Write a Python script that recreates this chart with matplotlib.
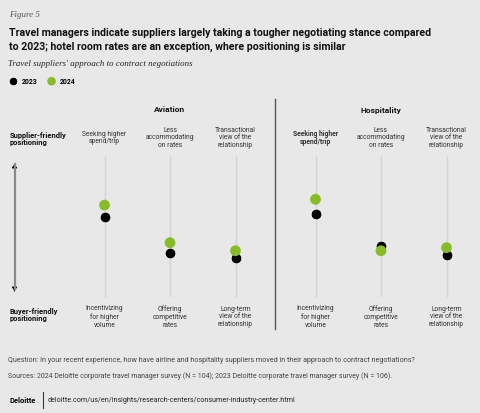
import matplotlib
matplotlib.use('Agg')
import matplotlib.pyplot as plt
from matplotlib.lines import Line2D
from matplotlib import font_manager as fm

# ---------------- data ----------------
sectors = ['Aviation', 'Hospitality']
years = ['2023', '2024']
top_labels = ['Seeking higher\nspend/trip', 'Less\naccommodating\non rates',
              'Transactional\nview of the\nrelationship']
bottom_labels = ['Incentivizing\nfor higher\nvolume', 'Offering\ncompetitive\nrates',
                 'Long-term\nview of the\nrelationship']
# position on a 0 (buyer-friendly) .. 100 (supplier-friendly) scale
aviation_2023 = [56.5, 31.0, 27.4]
aviation_2024 = [65.2, 38.5, 32.8]
hospitality_2023 = [58.7, 36.0, 30.0]
hospitality_2024 = [69.3, 32.8, 35.0]

title_lines = ['Travel managers indicate suppliers largely taking a tougher negotiating stance compared',
               'to 2023; hotel room rates are an exception, where positioning is similar']
subtitle = "Travel suppliers' approach to contract negotiations"
question = ('Question: In your recent experience, how have airline and hospitality suppliers '
            'moved in their approach to contract negotiations?')
sources = ('Sources: 2024 Deloitte corporate travel manager survey (N = 104); '
           '2023 Deloitte corporate travel manager survey (N = 106).')
url = 'deloitte.com/us/en/insights/research-centers/consumer-industry-center.html'

# ---------------- fonts ----------------
def has_font(name):
    try:
        fm.findfont(fm.FontProperties(family=name), fallback_to_default=False)
        return True
    except Exception:
        return False

if has_font('Liberation Sans Narrow'):
    SANS = 'Liberation Sans Narrow'
    k = 1.0
else:
    SANS = 'Roboto'
    k = 0.82
SERIF = 'Liberation Serif' if has_font('Liberation Serif') else 'DejaVu Serif'

BG = '#e8e8e8'
GREEN = '#86bc25'
W, H = 480, 414

def fx(x):
    return x / W

def fy(y):
    return 1 - y / H

fig = plt.figure(figsize=(4.8, 4.14), dpi=100, facecolor=BG)

def txt(x, y, s, size, **kw):
    kw.setdefault('family', SANS)
    kw.setdefault('va', 'center')
    fig.text(fx(x), fy(y), s, fontsize=size * k, **kw)

# header
fig.text(fx(9), fy(15), 'Figure 5', fontsize=6.5, family=SERIF, style='italic',
         color='#555555', va='center')
txt(9, 33, title_lines[0], 9.2, weight='bold', color='#111111')
txt(9, 47, title_lines[1], 9.2, weight='bold', color='#111111')
fig.text(fx(8), fy(64), subtitle, fontsize=6.4, family=SERIF, style='italic',
         color='#222222', va='center')

# panels
series = {'Aviation': (aviation_2023, aviation_2024),
          'Hospitality': (hospitality_2023, hospitality_2024)}
centers = {'Aviation': 170, 'Hospitality': 381}
spacing = 65.5
y_top, y_bot = 157, 298

handles = None
for sec in sectors:
    c = centers[sec]
    left = c - 1.5 * spacing
    ax = fig.add_axes([fx(left), fy(y_bot), 3 * spacing / W, (y_bot - y_top) / H])
    ax.set_xlim(-0.5, 2.5)
    ax.set_ylim(0, 100)
    ax.axis('off')
    xs = list(range(len(top_labels)))
    ax.vlines(xs, 0, 100, color='#d3d3d3', lw=1.0, zorder=1)
    v23, v24 = series[sec]
    h1 = ax.scatter(xs, v23, s=60, color='black', edgecolor='white', linewidth=0.6,
                    zorder=3, label=years[0], clip_on=False)
    h2 = ax.scatter(xs, v24, s=60, color=GREEN, edgecolor='none',
                    zorder=4, label=years[1], clip_on=False)
    if handles is None:
        handles = [h1, h2]
    txt(c, 110, sec, 7.4, weight='bold', color='#111111', ha='center')
    for i in xs:
        px = left + (i + 0.5) * spacing
        w = 'bold' if (sec == 'Hospitality' and i == 0) else 'normal'
        txt(px, 138, top_labels[i], 5.9, ha='center', color='#333333',
            linespacing=1.15, weight=w)
        txt(px, 317, bottom_labels[i], 5.9, ha='center', color='#333333',
            linespacing=1.15)

# legend
leg = fig.legend(handles=handles, loc='center left', bbox_to_anchor=(fx(9.5), fy(82)),
                 ncol=2, frameon=False, markerscale=0.8, handletextpad=0.75,
                 columnspacing=1.6, handlelength=1.0, borderpad=0, borderaxespad=0,
                 prop={'family': SANS, 'weight': 'bold', 'size': 6.0 * k})

# divider
fig.add_artist(Line2D([fx(275), fx(275)], [fy(100), fy(330)], color='#555555', lw=1.0))

# left axis description + arrow
txt(10, 139, 'Supplier-friendly\npositioning', 6.6, weight='bold', color='#111111',
    linespacing=1.15)
txt(10, 315, 'Buyer-friendly\npositioning', 6.6, weight='bold', color='#111111',
    linespacing=1.15)
fig.add_artist(Line2D([fx(14.5), fx(14.5)], [fy(165), fy(290)], color='#8a8a8a', lw=1.6))
for y0, y1 in ((168, 162), (289, 295)):
    fig.add_artist(matplotlib.patches.FancyArrowPatch(
        (fx(14.5), fy(y0)), (fx(14.5), fy(y1)), transform=fig.transFigure,
        arrowstyle='-|>,head_length=2.5,head_width=1.6', color='black', lw=0.6,
        mutation_scale=1))

# footer
txt(8, 361, question, 6.25, color='#444444')
txt(8, 376, sources, 6.2, color='#444444')
txt(10, 401, 'Deloitte', 6.6, weight='bold', color='black')
txt(36.5, 401, '.', 6.6, weight='bold', color=GREEN)
fig.add_artist(Line2D([fx(43), fx(43)], [fy(393), fy(409)], color='#333333', lw=0.8))
txt(48, 401, url, 6.3, color='#222222')

fig.savefig('out.png', dpi=100, facecolor=BG)
